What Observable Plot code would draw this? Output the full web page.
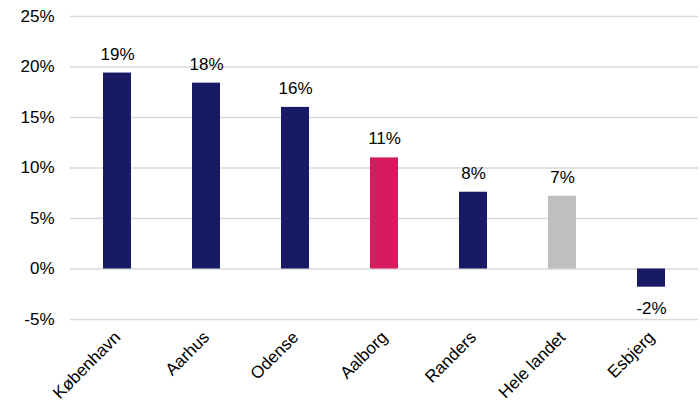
<!DOCTYPE html>
<html><head><meta charset="utf-8">
<script src="https://cdn.jsdelivr.net/npm/d3@7"></script>
<script src="https://cdn.jsdelivr.net/npm/@observablehq/plot@0.6"></script>
<style>body{margin:0;background:#fff;} svg{font-family:"Liberation Sans",Arial,sans-serif;}</style>
</head><body><div id="chart"></div>
<script>
const cities = ["København","Aarhus","Odense","Aalborg","Randers","Hele landet","Esbjerg"];
const values = [19.4,18.4,16.0,11.0,7.6,7.2,-1.8];
const labels = ["19%","18%","16%","11%","8%","7%","-2%"];
const colors = ["#181a66","#181a66","#181a66","#d81b60","#181a66","#bfbfbf","#181a66"];
const yTicks = [-5,0,5,10,15,20,25];

const data = cities.map((c,i)=>({city:c,value:values[i],label:labels[i],color:colors[i]}));
const pos = data.filter(d=>d.value>=0);
const neg = data.filter(d=>d.value<0);

const chart = Plot.plot({
  width:700, height:406,
  marginLeft:70, marginRight:2, marginTop:16, marginBottom:87,
  style:{fontSize:"17px", fontFamily:"'Liberation Sans',Arial,sans-serif", color:"#000"},
  x:{domain:cities, paddingInner:0.69, paddingOuter:0.345, label:null},
  y:{domain:[-5,25], ticks:yTicks, label:null},
  marks:[
    Plot.gridY(yTicks,{stroke:"#d9d9d9", strokeOpacity:1, strokeWidth:1.5}),
    Plot.barY(data,{x:"city", y:"value", fill:"color"}),
    Plot.text(pos,{x:"city", y:"value", text:"label", dy:-19, lineAnchor:"middle", fontSize:17, fill:"#000"}),
    Plot.text(neg,{x:"city", y:"value", text:"label", dy:21, lineAnchor:"middle", fontSize:17, fill:"#000"}),
    Plot.axisY(yTicks,{tickSize:0, tickPadding:16, tickFormat:d=>d+"%", fontSize:17, fill:"#000"}),
    Plot.axisX({tickSize:0, tickRotate:-45, tickPadding:15, fontSize:17, fill:"#000"})
  ]
});
document.getElementById("chart").appendChild(chart);
</script></body></html>
